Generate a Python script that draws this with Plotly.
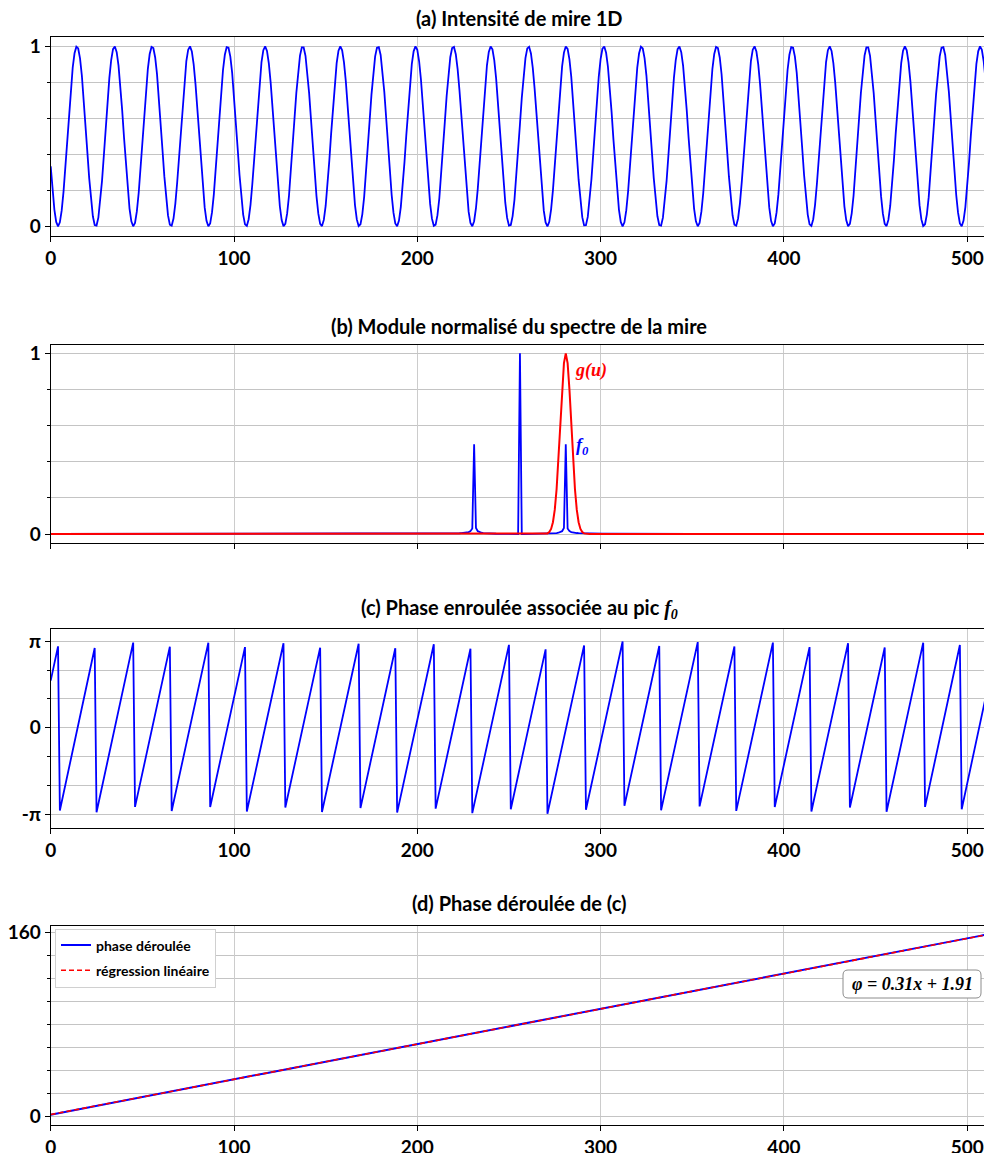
import numpy as np
import plotly.graph_objects as go

# ---------------- data ----------------
N_SAMPLES = 512                 # samples of the 1D pattern
FRINGE_SLOPE = 0.306            # rad / pixel (phase slope of the mire)
FRINGE_PHASE0 = 1.91            # rad, phase at x = 0
FILTER_CENTER = 281             # centre of g(u) (spectral bin of f0)
FILTER_SIGMA = 3.0              # width of g(u) in bins
REG_TEXT_SLOPE = "0.31"         # displayed regression coefficients
REG_TEXT_INTERCEPT = "1.91"
X_TICKS = [0, 100, 200, 300, 400, 500]
YA_TICKS = [0, 1]
YA_MINOR = [0.2, 0.4, 0.6, 0.8]
YC_TICKS = [-np.pi, 0, np.pi]
YC_TICKTEXT = ["-π", "0", "π"]
YC_MINOR = [-2 * np.pi / 3, -np.pi / 3, np.pi / 3, 2 * np.pi / 3]
YD_TICKS = [0, 160]
YD_MINOR = [20, 40, 60, 80, 100, 120, 140]
TITLES = [
    "(a) Intensité de mire 1D",
    "(b) Module normalisé du spectre de la mire",
    "(c) Phase enroulée associée au pic <span style=\"font-family:'Liberation Serif'\"><i>f<sub>0</sub></i></span>",
    "(d) Phase déroulée de (c)",
]
LEGEND_NAMES = ["phase déroulée", "régression linéaire"]

# ---------------- signal processing chain ----------------
x = np.arange(N_SAMPLES)
intensity = 0.5 + 0.5 * np.cos(FRINGE_SLOPE * x + FRINGE_PHASE0)
spec = np.fft.fftshift(np.fft.fft(intensity))
spec_mod = np.abs(spec) / np.abs(spec).max()
g = np.exp(-((x - FILTER_CENTER) ** 2) / (2 * FILTER_SIGMA ** 2))
z = np.fft.ifft(np.fft.ifftshift(spec * g))
wrapped = np.angle(z)
unwrapped = np.unwrap(wrapped)
coef = np.polyfit(x, unwrapped, 1)
regression = np.polyval(coef, x)

# ---------------- layout helpers ----------------
W, H = 984, 1153
X0_PX = 50.7
PX_PER_UNIT = 1.833
X_MAX = (W - X0_PX) / PX_PER_UNIT

def ydom(top_px, bot_px):
    return [1 - bot_px / H, 1 - top_px / H]

DOMS = [ydom(37, 235.7), ydom(344.7, 543.3), ydom(628.7, 828.3), ydom(926, 1125)]
YRANGES = [[-0.052, 1.052], [-0.051, 1.048], [-3.66, 3.60], [-7.2, 165.8]]

FONT = "Lato, 'DejaVu Sans', sans-serif"
SERIF = "'Liberation Serif', 'DejaVu Serif', serif"
BLUE = "#0000ff"
RED = "#ff0000"
MAJ_GRID = "#cccccc"
MIN_GRID = "#c4c4c4"

fig = go.Figure()

fig.add_trace(go.Scatter(x=x, y=intensity, mode="lines", line=dict(color=BLUE, width=1.8),
                         xaxis="x", yaxis="y", showlegend=False))
fig.add_trace(go.Scatter(x=x, y=spec_mod, mode="lines", line=dict(color=BLUE, width=1.8),
                         xaxis="x2", yaxis="y2", showlegend=False))
fig.add_trace(go.Scatter(x=x, y=g, mode="lines", line=dict(color=RED, width=2),
                         xaxis="x2", yaxis="y2", showlegend=False))
fig.add_trace(go.Scatter(x=x, y=wrapped, mode="lines", line=dict(color=BLUE, width=1.8),
                         xaxis="x3", yaxis="y3", showlegend=False))
fig.add_trace(go.Scatter(x=x, y=unwrapped, mode="lines", name=LEGEND_NAMES[0],
                         line=dict(color=BLUE, width=2), xaxis="x4", yaxis="y4",
                         legendgroup="a"))
fig.add_trace(go.Scatter(x=x, y=regression, mode="lines", name=LEGEND_NAMES[1],
                         line=dict(color=RED, width=1.6, dash="5px,3px"), xaxis="x4", yaxis="y4",
                         legendgroup="b"))

tickfont = dict(family=FONT, size=19, color="black", weight="bold")

layout = dict(
    width=W, height=H,
    margin=dict(l=0, r=0, t=0, b=0, autoexpand=False),
    paper_bgcolor="white", plot_bgcolor="white",
    showlegend=True,
    legend=dict(x=55 / W, y=1 - 928.5 / H, xanchor="left", yanchor="top",
                bgcolor="white", bordercolor="#d0d0d0", borderwidth=1,
                font=dict(family=FONT, size=14, color="black", weight="bold"),
                tracegroupgap=4, itemwidth=30),
)

for i in range(4):
    sx = "" if i == 0 else str(i + 1)
    layout["xaxis" + sx] = dict(
        domain=[X0_PX / W, 1], range=[0, X_MAX], anchor="y" + sx,
        tickvals=X_TICKS, showticklabels=(i != 1), automargin=False,
        ticks="outside", ticklen=5, tickwidth=1, tickcolor="black",
        showline=True, linecolor="black", linewidth=1, mirror=True,
        showgrid=True, gridcolor=MAJ_GRID, gridwidth=1.3, zeroline=False,
        tickfont=tickfont,
    )

yspecs = [
    dict(tickvals=YA_TICKS, minor=dict(tickvals=YA_MINOR)),
    dict(tickvals=YA_TICKS, minor=dict(tickvals=YA_MINOR)),
    dict(tickvals=YC_TICKS, ticktext=YC_TICKTEXT, minor=dict(tickvals=YC_MINOR)),
    dict(tickvals=YD_TICKS, minor=dict(tickvals=YD_MINOR)),
]
for i in range(4):
    sy = "" if i == 0 else str(i + 1)
    sx = "" if i == 0 else str(i + 1)
    spec_ = yspecs[i]
    minor = dict(tickvals=spec_["minor"]["tickvals"], ticks="outside", ticklen=3,
                 tickcolor="black", showgrid=True, gridcolor=MIN_GRID, gridwidth=1)
    ax = dict(
        domain=DOMS[i], range=YRANGES[i], anchor="x" + sx, automargin=False,
        tickvals=spec_["tickvals"],
        ticks="outside", ticklen=5, tickwidth=1, tickcolor="black",
        showline=True, linecolor="black", linewidth=1, mirror=False,
        showgrid=True, gridcolor=MIN_GRID, gridwidth=1, zeroline=False,
        tickfont=tickfont, minor=minor,
    )
    if "ticktext" in spec_:
        ax["ticktext"] = spec_["ticktext"]
    layout["yaxis" + sy] = ax

fig.update_layout(**layout)

# panel titles
TITLE_Y_PX = [18, 326, 608, 903]
for t, ypx in zip(TITLES, TITLE_Y_PX):
    fig.add_annotation(text=t, x=519 / W, y=1 - ypx / H, xref="paper", yref="paper",
                       xanchor="center", yanchor="middle", showarrow=False,
                       font=dict(family=FONT, size=20, color="black", weight="bold"))

# labels of panel (b)
fig.add_annotation(text="<i>g(u)</i>", x=591 / W, y=1 - 370 / H, xref="paper", yref="paper",
                   xanchor="center", yanchor="middle", showarrow=False,
                   font=dict(family=SERIF, size=18, color=RED, weight="bold"))
fig.add_annotation(text="<i>f<sub>0</sub></i>", x=582 / W, y=1 - 446 / H, xref="paper", yref="paper",
                   xanchor="center", yanchor="middle", showarrow=False,
                   font=dict(family=SERIF, size=18, color=BLUE, weight="bold"))

# regression equation box (rounded)
bx0, bx1, by0, by1, rr = 843, 981, 970, 998, 5
def px(xp):
    return xp / W
def py(yp):
    return 1 - yp / H
path = (f"M {px(bx0 + rr)},{py(by0)} L {px(bx1 - rr)},{py(by0)} "
        f"Q {px(bx1)},{py(by0)} {px(bx1)},{py(by0 + rr)} "
        f"L {px(bx1)},{py(by1 - rr)} Q {px(bx1)},{py(by1)} {px(bx1 - rr)},{py(by1)} "
        f"L {px(bx0 + rr)},{py(by1)} Q {px(bx0)},{py(by1)} {px(bx0)},{py(by1 - rr)} "
        f"L {px(bx0)},{py(by0 + rr)} Q {px(bx0)},{py(by0)} {px(bx0 + rr)},{py(by0)} Z")
fig.add_shape(type="path", path=path, xref="paper", yref="paper",
              line=dict(color="#8c8c8c", width=1), fillcolor="white", layer="above")
fig.add_annotation(text=f"<i>φ = {REG_TEXT_SLOPE}x + {REG_TEXT_INTERCEPT}</i>",
                   x=(bx0 + bx1) / 2 / W, y=1 - (by0 + by1) / 2 / H, xref="paper", yref="paper",
                   xanchor="center", yanchor="middle", showarrow=False,
                   font=dict(family=SERIF, size=18, color="black", weight="bold"))

fig.write_html(
    "out.html",
    config={"displayModeBar": False},
    post_script=(
        "document.body.style.margin='0';document.body.style.padding='0';"
        "document.documentElement.style.overflow='hidden';"
        "var d=document.getElementById('{plot_id}');"
        "d.style.position='fixed';d.style.left='0px';d.style.top='0px';"
    ),
)
